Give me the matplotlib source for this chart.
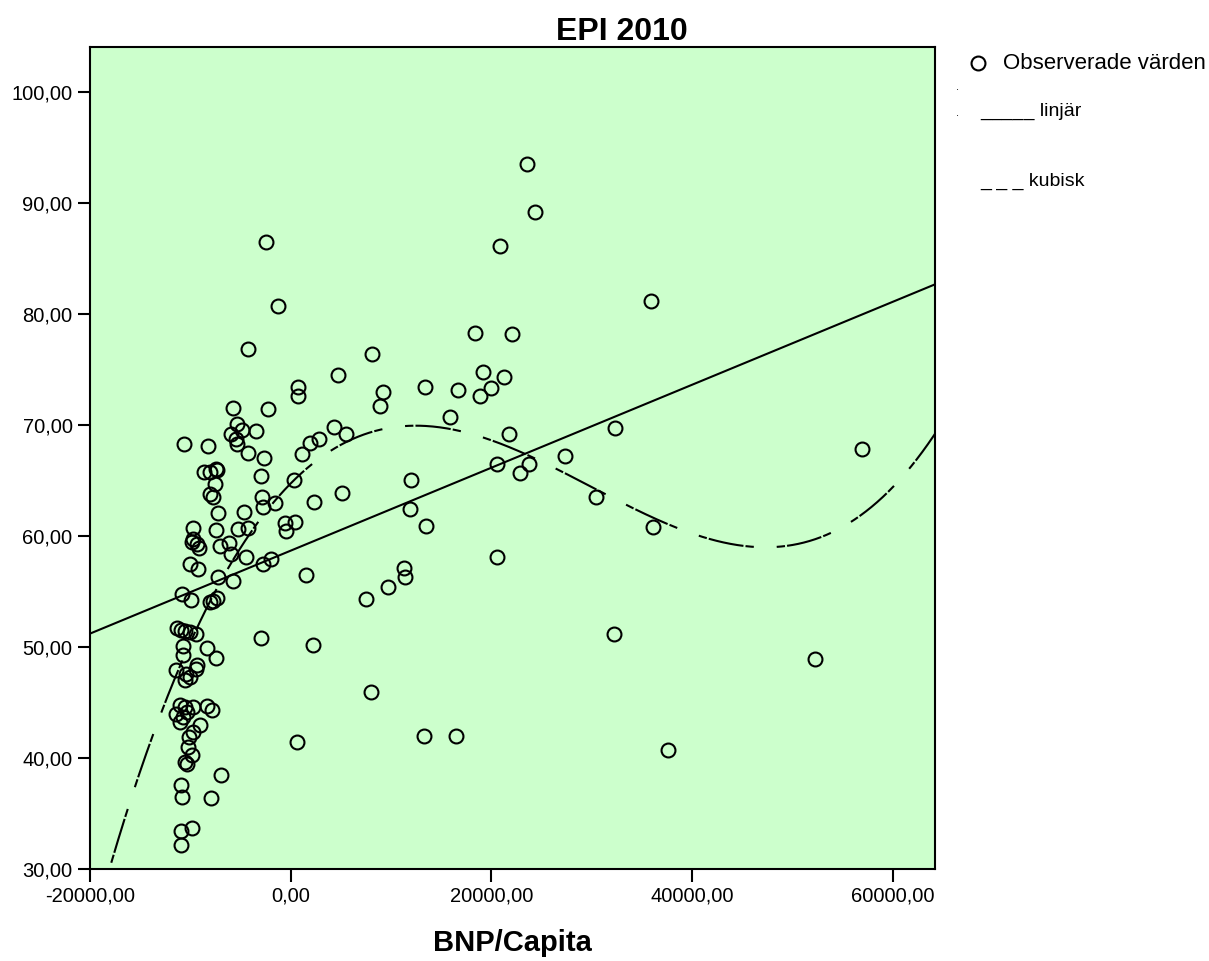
import matplotlib
matplotlib.use("Agg")
import matplotlib.pyplot as plt
from matplotlib.ticker import FuncFormatter
from matplotlib.lines import Line2D
import numpy as np

plt.rcParams['font.family'] = ['Liberation Sans', 'DejaVu Sans']

# BNP/Capita (x) and EPI 2010 (y)
gdp = [23500, 24300, 20900, 35900, 18400, 22100, 19200, 21300, 16700, 20000,
       18900, 15900, 21800, 32300, 20600, 23700, 22800, 27300, 30400, 36100,
       56900, 32200, 52200, 37600,
       8100, 4700, 700, 700, 13400, 9200, 8900, 4300, 5500, 2800,
       1900, 1100, 300, -1600, 2300, 5100, 12000, 11900, 13500, -600,
       400, -500, 20600, 1500, 11300, 11400, 9700, 7500, 2200, 8000,
       600, 13300, 16500,
       -2500, -1300, -4300, -5700, -2300, -5300, -4900, -5900, -5400, -5300,
       -3500, -10600, -8200, -4300, -2700, -8600, -8000, -7400, -7300, -7500,
       -8000, -7700, -3000, -2900, -2800, -7200, -4700, -9700, -7400, -5200,
       -4300, -9700, -9800, -9300, -9100, -7000, -6100, -5900, -4500, -2800,
       -2000, -10000, -9200, -7200, -5700, -10800, -9900, -8000, -7700, -7300,
       -11300, -10900, -10500, -10000, -9400, -10700, -10700, -8300, -7400, -3000,
       -11400, -9300, -9400, -10400, -10000, -10500, -11000, -10500, -9700, -8300,
       -7800, -11400, -10700, -10300, -11000, -9000, -9700, -10100, -10200, -9800,
       -10500, -10300, -6900, -10900, -10800, -7900, -9800, -10900, -10900]
epi = [93.5, 89.2, 86.1, 81.2, 78.3, 78.2, 74.8, 74.3, 73.1, 73.3,
       72.6, 70.7, 69.2, 69.7, 66.5, 66.45, 65.7, 67.2, 63.5, 60.8,
       67.85, 51.2, 48.95, 40.7,
       76.4, 74.5, 73.4, 72.6, 73.4, 73.0, 71.7, 69.8, 69.2, 68.7,
       68.4, 67.4, 65.0, 62.95, 63.1, 63.9, 65.0, 62.45, 60.9, 61.2,
       61.25, 60.4, 58.1, 56.5, 57.1, 56.3, 55.4, 54.3, 50.2, 45.9,
       41.4, 42.0, 42.0,
       86.45, 80.7, 76.85, 71.5, 71.45, 70.1, 69.5, 69.2, 68.7, 68.3,
       69.45, 68.3, 68.1, 67.5, 67.0, 65.75, 65.75, 66.0, 65.9, 64.65,
       63.8, 63.55, 65.4, 63.5, 62.6, 62.05, 62.2, 60.7, 60.5, 60.65,
       60.7, 59.7, 59.45, 59.3, 58.9, 59.1, 59.35, 58.4, 58.1, 57.45,
       57.95, 57.5, 57.05, 56.3, 55.9, 54.75, 54.2, 54.05, 54.1, 54.4,
       51.75, 51.5, 51.45, 51.35, 51.15, 50.1, 49.3, 49.95, 49.05, 50.85,
       47.95, 48.4, 48.0, 47.6, 47.3, 47.05, 44.75, 44.6, 44.6, 44.7,
       44.35, 43.95, 43.7, 44.15, 43.2, 42.95, 42.35, 41.85, 41.0, 40.25,
       39.65, 39.5, 38.45, 37.6, 36.45, 36.4, 33.7, 33.4, 32.15]

x = np.array(gdp, dtype=float)
y = np.array(epi, dtype=float)

lin = np.polyfit(x, y, 1)
cub = np.polyfit(x, y, 3)

fig = plt.figure(figsize=(12.09, 9.61), dpi=100)
ax = fig.add_axes([0.0744, 0.0957, 0.699, 0.855])
ax.set_facecolor('#ccffcc')

xs = np.linspace(-20000, 64200, 600)
ax.plot(xs, np.polyval(lin, xs), color='black', lw=1.5)
ax.plot(xs, np.polyval(cub, xs), color='black', lw=1.5, dashes=(4, 1, 17, 1, 4, 11))
ax.plot(x, y, 'o', mfc='none', mec='black', ms=10, mew=1.5)

ax.set_xlim(-20000, 64200)
ax.set_ylim(30, 104)
ax.set_xticks([-20000, 0, 20000, 40000, 60000])
ax.set_yticks([30, 40, 50, 60, 70, 80, 90, 100])
fmt = FuncFormatter(lambda v, p: ('%.2f' % v).replace('.', ','))
ax.xaxis.set_major_formatter(fmt)
ax.yaxis.set_major_formatter(fmt)
ax.tick_params(direction='out', length=9, width=1.5, labelsize=14.5, color='black')
for s in ax.spines.values():
    s.set_linewidth(1.5)

ax.set_title('EPI 2010', fontsize=23, fontweight='bold', pad=5, x=0.63)
ax.set_xlabel('BNP/Capita', fontsize=21, fontweight='bold', labelpad=17)

# legend drawn by hand, as in the original output
fig.add_artist(Line2D([0.809], [0.9344], marker='o', mfc='none', mec='black',
                      ms=10, mew=1.5, transform=fig.transFigure))
fig.text(0.8296, 0.9344, 'Observerade värden', fontsize=16, va='center')
fig.text(0.791, 0.906, '.', fontsize=8)
fig.text(0.791, 0.879, '.', fontsize=8)
fig.text(0.8106, 0.8793, '_____ linjär', fontsize=14, va='baseline')
fig.text(0.8106, 0.8065, '_ _ _ kubisk', fontsize=14, va='baseline')

fig.savefig('out.png', dpi=100)
